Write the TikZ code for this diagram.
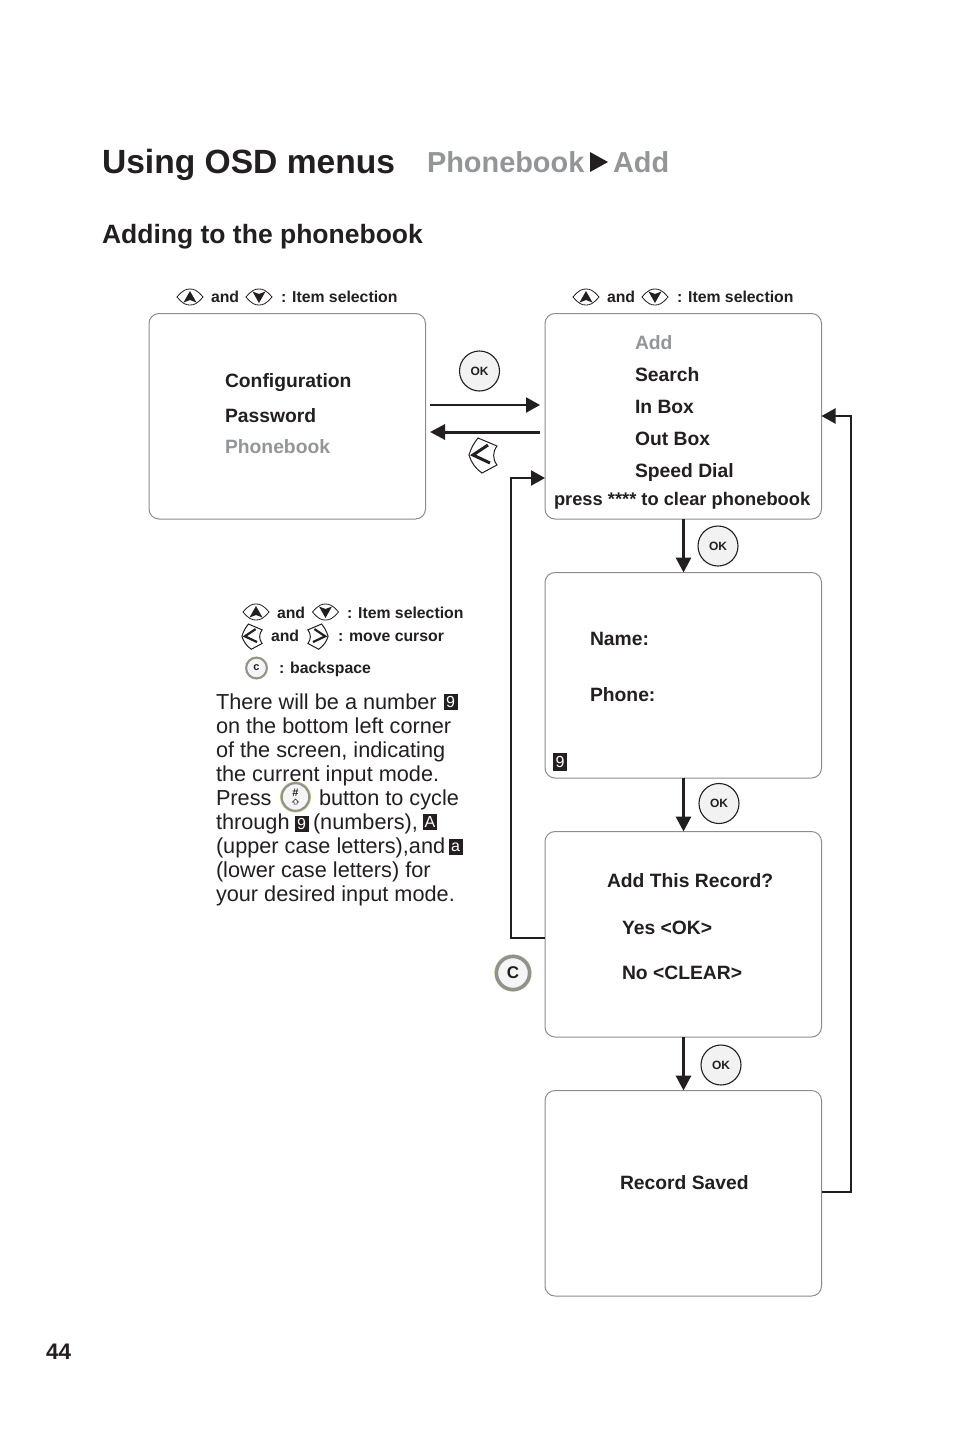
\documentclass[tikz,border=0pt]{standalone}
\usepackage{fontspec}
\setmainfont{Liberation Sans}
\usetikzlibrary{arrows.meta,calc}
\definecolor{ink}{HTML}{231F20}
\definecolor{greytxt}{HTML}{939598}
\definecolor{boxline}{HTML}{8A8C8E}
\definecolor{ringgrey}{HTML}{8E9290}
\definecolor{ringedge}{HTML}{C9BE6A}
\newcommand{\fs}[1]{\fontsize{#1}{#1}\selectfont}
\tikzset{
  x=1pt,y=-1pt,
  screen/.style={draw=boxline,line width=1pt,rounded corners=10pt,fill=white},
  txt/.style={anchor=base west,inner sep=0pt,outer sep=0pt,text=ink},
  menu/.style={txt,font=\bfseries\fs{19.3}},
  menugrey/.style={menu,text=greytxt},
  hint/.style={txt,font=\bfseries\fs{15.8}},
  body/.style={txt,font=\fs{21.7}},
  flow/.style={draw=ink,line width=3pt,-{Triangle[length=15pt,width=15pt]}},
  flowthin/.style={draw=ink,line width=2.2pt,-{Triangle[length=14pt,width=15pt]}},
  okbtn/.style={circle,draw=ink,line width=1.1pt,fill=black!5,minimum size=40pt,inner sep=0pt,font=\bfseries\fs{12},text=ink},
  ringbtn/.style={circle,draw=ringgrey,fill=black!4,inner sep=0pt,text=ink,
     double=none},
  mode/.style={fill=ink,text=white,inner sep=0pt,minimum width=14pt,minimum height=16pt,font=\fs{16}},
}
\newcommand{\upkey}[2]{\begin{scope}[shift={(#1,#2)}]
 \draw[ink,line width=0.8pt,fill=white] (-13,0) .. controls (-7,-7) and (-4,-8) .. (0,-8) .. controls (4,-8) and (7,-7) .. (13,0) .. controls (7,7) and (4,8) .. (0,8) .. controls (-4,8) and (-7,7) .. (-13,0) -- cycle;
 \fill[ink] (0,-6) -- (6.5,5.5) -- (0,3) -- (-6.5,5.5) -- cycle;
\end{scope}}
\newcommand{\downkey}[2]{\begin{scope}[shift={(#1,#2)}]
 \draw[ink,line width=0.8pt,fill=white] (-13,0) .. controls (-7,-7) and (-4,-8) .. (0,-8) .. controls (4,-8) and (7,-7) .. (13,0) .. controls (7,7) and (4,8) .. (0,8) .. controls (-4,8) and (-7,7) .. (-13,0) -- cycle;
 \fill[ink] (0,6) -- (6.5,-5.5) -- (0,-3) -- (-6.5,-5.5) -- cycle;
\end{scope}}
% #1 x, #2 y, #3 scale, #4 x-direction
\newcommand{\sidekey}[4]{\begin{scope}[shift={(#1,#2)},xscale=#4*#3,yscale=#3]
 \draw[ink,line width=1pt,fill=white] (-5,-18) -- (14,-10) .. controls (9.5,-4) and (9.5,3) .. (14,9) -- (-1,17) .. controls (-8,12) and (-12,6) .. (-14,-1) .. controls (-12,-8) and (-9,-13) .. (-5,-18) -- cycle;
 \draw[ink,line width=#3*3pt] (5,-11) -- (-10,-1) -- (7,7);
\end{scope}}
\begin{document}
\begin{tikzpicture}
\useasboundingbox (0,0) rectangle (954,1433);
\fill[white] (0,0) rectangle (954,1433);

% titles
\node[txt,font=\bfseries\fs{33.6}] (title) at (102,173) {Using OSD menus};
\node[txt,font=\bfseries\fs{28.9}] (crumbA) at (427,172) {\textcolor{greytxt}{Phonebook}};
\node[txt,font=\bfseries\fs{28.9}] (crumbB) at (613,172) {\textcolor{greytxt}{Add}};
\fill[ink] (590,152) -- (608,162) -- (590,172) -- cycle;
\node[txt,font=\bfseries\fs{26.5}] (head) at (102,243) {Adding to the phonebook};
\node[txt,font=\bfseries\fs{22.5}] (page) at (46,1359) {44};

% screens
\draw[screen] (149,313.5) rectangle (425.5,519);
\draw[screen] (545,313.5) rectangle (821.5,519);
\draw[screen] (545,572.5) rectangle (821.5,778);
\draw[screen] (545,831.5) rectangle (821.5,1037);
\draw[screen] (545,1090.5) rectangle (821.5,1296);
\coordinate (s2top) at (683.5,519);
\coordinate (s3top) at (683.5,572.5);
\coordinate (s3bot) at (683.5,778);
\coordinate (s4top) at (683.5,831.5);
\coordinate (s4bot) at (683.5,1037);
\coordinate (s5top) at (683.5,1090.5);

% hints top
\upkey{190}{297}\node[hint] (h1a) at (211,302) {and};\downkey{259}{297}\node[hint] (h1b) at (281,302) {: Item selection};
\upkey{586}{297}\node[hint] (h2a) at (607,302) {and};\downkey{655}{297}\node[hint] (h2b) at (677,302) {: Item selection};

% screen 1
\node[menu] (m1) at (225,387) {Configuration};
\node[menu] (m2) at (225,422) {Password};
\node[menugrey] (m3) at (225,453) {\textcolor{greytxt}{Phonebook}};
% screen 2
\node[menugrey] (a1) at (635,349) {\textcolor{greytxt}{Add}};
\node[menu] (a2) at (635,381) {Search};
\node[menu] (a3) at (635,413) {In Box};
\node[menu] (a4) at (635,445) {Out Box};
\node[menu] (a5) at (635,477) {Speed Dial};
\node[txt,font=\bfseries\fs{18.3}] (a6) at (554,505) {press **** to clear phonebook};
% screen 3
\node[menu] (n1) at (590,645) {Name:};
\node[menu] (n2) at (590,701) {Phone:};
\node[mode,minimum height=18pt] (n3) at (560,762) {9};
% screen 4
\node[menu] (r1) at (607,887) {Add This Record?};
\node[menu] (r2) at (622,934) {Yes <OK>};
\node[menu] (r3) at (622,979) {No <CLEAR>};
% screen 5
\node[menu] (z1) at (620,1189) {Record Saved};

% connectors
\coordinate (oA) at (430,405); \coordinate (oB) at (540,405);
\draw[flowthin] (oA) -- (oB);
\coordinate (bA) at (540,432); \coordinate (bB) at (430,432);
\draw[flow] (bA) -- (bB);
\draw[flow] (s2top) -- (s3top);
\draw[flow] (s3bot) -- (s4top);
\draw[flow] (s4bot) -- (s5top);
\coordinate (cA) at (545,938); \coordinate (cB) at (511,938); \coordinate (cC) at (511,478); \coordinate (cD) at (545,478);
\draw[flowthin] (cA) -- (cB) -- (cC) -- (cD);
\coordinate (dA) at (821.5,1192); \coordinate (dB) at (851,1192); \coordinate (dC) at (851,416); \coordinate (dD) at (821.5,416);
\draw[flowthin] (dA) -- (dB) -- (dC) -- (dD);

% buttons
\node[okbtn] (ok1) at (479.5,371) {\raisebox{-1.5pt}{OK}};
\node[okbtn] (ok2) at (718,546) {\raisebox{-1.5pt}{OK}};
\node[okbtn] (ok3) at (719,803.5) {\raisebox{-1.5pt}{OK}};
\node[okbtn] (ok4) at (721,1065) {\raisebox{-1.5pt}{OK}};
\sidekey{483}{456}{1}{1}
\fill[ringedge] (513,973) circle (18.6);
\node[ringbtn,line width=3.4pt,minimum size=33pt,font=\bfseries\fs{17}] (c1) at (513,973) {C};

% legend
\upkey{256}{612}\node[hint] (l1) at (277,618) {and};\downkey{325.5}{612}\node[hint] (l2) at (347,618) {: Item selection};
\sidekey{252}{637}{0.72}{1}\node[hint] (l3) at (271,641) {and};\sidekey{318}{637}{0.72}{-1}\node[hint] (l4) at (338,641) {: move cursor};
\fill[ringedge] (256.5,668) circle (11.6);
\node[ringbtn,line width=1.8pt,minimum size=20.5pt,font=\bfseries\fs{11}] (c2) at (256.5,668) {c};
\node[hint] (l5) at (279,673) {: backspace};

% body
\node[body] (b1) at (216,709) {There will be a number};
\node[mode] (b1m) at (450.5,702) {9};
\node[body] (b2) at (216,733) {on the bottom left corner};
\node[body] (b3) at (216,757) {of the screen, indicating};
\node[body] (b4) at (216,781) {the current input mode.};
\node[body] (b5) at (216,805) {Press};
\fill[ringedge] (295.5,797) circle (15.4);
\node[ringbtn,line width=2pt,minimum size=27.5pt] (hash) at (295.5,797) {};
\node[inner sep=0pt,font=\bfseries\fs{11},text=ink] (hashsym) at (295.5,792.5) {\#};
\draw[ink,line width=0.5pt] (295.5,799) -- (298.5,802) -- (297,802) -- (297,804) -- (294,804) -- (294,802) -- (292.5,802) -- cycle;
\node[body] (b5b) at (319,805) {button to cycle};
\node[body] (b6) at (216,829) {through};
\node[mode] (b6m) at (301.5,824) {9};
\node[body] (b6b) at (313,829) {(numbers),};
\node[mode] (b6n) at (430,822) {A};
\node[body] (b7) at (216,853) {(upper case letters),and};
\node[mode] (b7m) at (455.5,847) {a};
\node[body] (b8) at (216,877) {(lower case letters) for};
\node[body] (b9) at (216,901) {your desired input mode.};
\end{tikzpicture}
\end{document}
